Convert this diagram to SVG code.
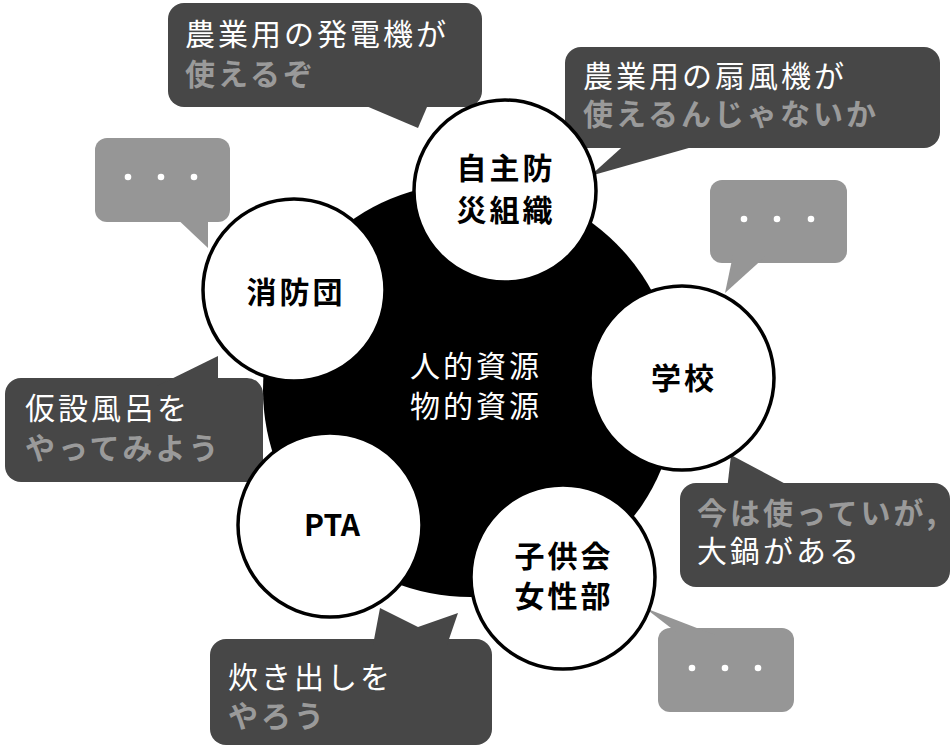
<svg xmlns="http://www.w3.org/2000/svg" width="952" height="746" viewBox="0 0 952 746">
<style>
.dark{fill:#474747}
.light{fill:#969696}
.dot{fill:#ffffff}
.node{fill:#ffffff;stroke:#000000;stroke-width:3.5}
.t{font-family:"Noto Sans CJK JP","Noto Sans",sans-serif;font-size:30px;letter-spacing:3px}
.w{fill:#ffffff}
.g{fill:#9a9a9a;font-weight:bold}
.n{font-family:"Noto Sans CJK JP","Noto Sans",sans-serif;font-size:30px;font-weight:bold;fill:#000000;text-anchor:middle;letter-spacing:3px}
</style>
<rect width="952" height="746" fill="#ffffff"/>
<g id="hub">
<circle cx="470" cy="390" r="207" fill="#000000"/>
<text class="t w" x="476" y="377" text-anchor="middle">人的資源</text>
<text class="t w" x="476" y="417" text-anchor="middle">物的資源</text>
</g>
<g id="connectors">
<g id="bubble-generator">
<rect class="dark" x="168" y="3" width="314" height="104" rx="16"/>
<polygon class="dark" points="352,100 430,100 418,128"/>
<text class="t w" x="185" y="45">農業用の発電機が</text>
<text class="t g" x="185" y="85">使えるぞ</text>
</g>
<g id="bubble-fan">
<rect class="dark" x="565" y="47" width="375" height="101" rx="16"/>
<polygon class="dark" points="630,140 717,140 590,176"/>
<text class="t w" x="583" y="87">農業用の扇風機が</text>
<text class="t g" x="583" y="125">使えるんじゃないか</text>
</g>
<g id="bubble-dots-left">
<rect class="light" x="95" y="138" width="135" height="84" rx="12"/>
<polygon class="light" points="173,215 208,215 208,248"/>
<circle class="dot" cx="128" cy="177" r="3.3"/>
<circle class="dot" cx="161" cy="177" r="3.3"/>
<circle class="dot" cx="194" cy="177" r="3.3"/>
</g>
<g id="bubble-dots-right">
<rect class="light" x="710" y="180" width="137" height="83" rx="12"/>
<polygon class="light" points="733,255 767,255 725,293"/>
<circle class="dot" cx="744" cy="219" r="3.3"/>
<circle class="dot" cx="777" cy="219" r="3.3"/>
<circle class="dot" cx="811" cy="219" r="3.3"/>
</g>
<g id="bubble-bath">
<rect class="dark" x="5" y="378" width="258" height="104" rx="16"/>
<polygon class="dark" points="157,386 218,386 218,356"/>
<text class="t w" x="25" y="419">仮設風呂を</text>
<text class="t g" x="25" y="459">やってみよう</text>
</g>
<g id="bubble-pot">
<rect class="dark" x="680" y="483" width="270" height="104" rx="16"/>
<polygon class="dark" points="727,490 797,490 731,455"/>
<text class="t g" x="697" y="524">今は使っていが,</text>
<text class="t w" x="697" y="562">大鍋がある</text>
</g>
<g id="bubble-cook">
<rect class="dark" x="210" y="639" width="282" height="106" rx="16"/>
<polygon class="dark" points="373,645 380,608 418,627 458,613 447,645"/>
<text class="t w" x="228" y="688">炊き出しを</text>
<text class="t g" x="228" y="727">やろう</text>
</g>
<g id="bubble-dots-bottom">
<rect class="light" x="658" y="628" width="136" height="84" rx="12"/>
<polygon class="light" points="680,635 715,635 645,608"/>
<circle class="dot" cx="692" cy="668" r="3.3"/>
<circle class="dot" cx="725" cy="668" r="3.3"/>
<circle class="dot" cx="758" cy="668" r="3.3"/>
</g>
</g>
<g id="node-jishubo">
<circle class="node" cx="505" cy="191" r="91"/>
<text class="n" x="506" y="179">自主防</text>
<text class="n" x="506" y="221">災組織</text>
</g>
<g id="node-shobodan">
<circle class="node" cx="294" cy="290" r="91"/>
<text class="n" x="296" y="303">消防団</text>
</g>
<g id="node-gakko">
<circle class="node" cx="682" cy="378" r="92"/>
<text class="n" x="684" y="389">学校</text>
</g>
<g id="node-pta">
<circle class="node" cx="330" cy="525" r="92"/>
<text class="n" x="332" y="536" style="letter-spacing:0">PTA</text>
</g>
<g id="node-kodomokai">
<circle class="node" cx="563" cy="577" r="92"/>
<text class="n" x="564" y="567">子供会</text>
<text class="n" x="564" y="607">女性部</text>
</g>
</svg>
